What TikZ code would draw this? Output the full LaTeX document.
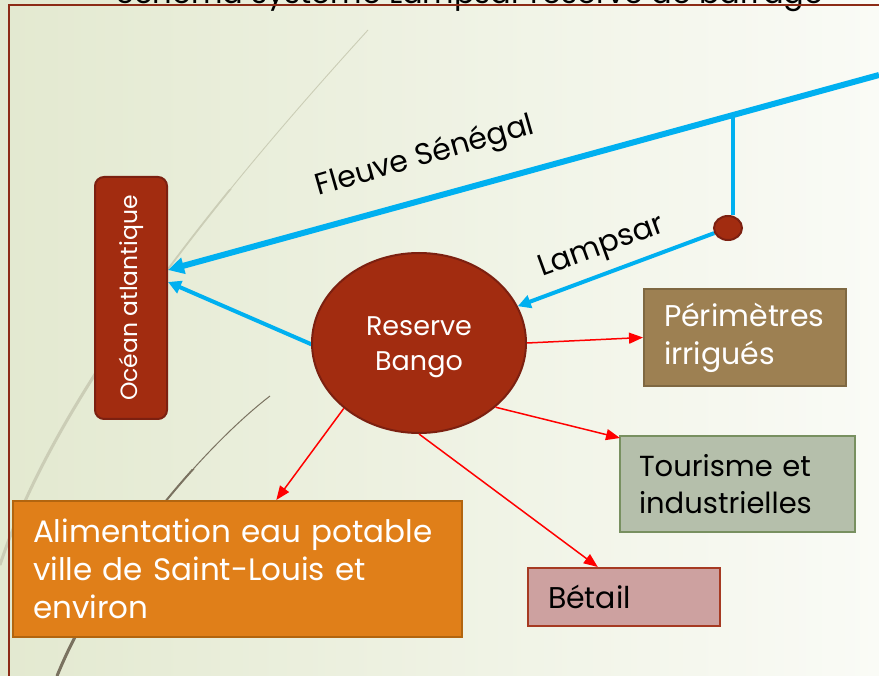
\documentclass[tikz,border=0pt]{standalone}
\usepackage{fontspec}
\setmainfont{Poppins}
\usetikzlibrary{arrows.meta,calc,shapes.geometric}
\definecolor{bgL}{HTML}{E3E9D0}
\definecolor{bgR}{HTML}{FAFBF6}
\definecolor{frame}{HTML}{8C2B16}
\definecolor{river}{HTML}{00B0F0}
\definecolor{rust}{HTML}{A22C10}
\definecolor{rustd}{HTML}{7C2010}
\definecolor{perimF}{HTML}{9D8052}
\definecolor{perimD}{HTML}{7F6842}
\definecolor{tourF}{HTML}{B5BFAB}
\definecolor{tourD}{HTML}{789060}
\definecolor{betF}{HTML}{CDA1A0}
\definecolor{betD}{HTML}{A63A22}
\definecolor{alimF}{HTML}{E07F19}
\definecolor{alimD}{HTML}{B2650F}
\definecolor{curveL}{HTML}{CBCDB6}
\definecolor{curveD}{HTML}{7A7260}
\pgfdeclarelayer{back}
\pgfdeclarelayer{conn}
\pgfsetlayers{back,conn,main}
\tikzset{
  riverline/.style={draw=river, line width=6pt, -{Triangle[length=16pt,width=16pt]}},
  branchline/.style={draw=river, line width=4pt},
  riverarrow/.style={draw=river, line width=4pt, -{Triangle[length=13pt,width=13pt]}},
  usearrow/.style={draw=red, line width=1.5pt, -{Triangle[length=14pt,width=11pt]}},
  box/.style={rectangle, line width=2pt, minimum height=#1, inner sep=0pt, align=left},
  lbl/.style={font=\fontsize{30}{34}\selectfont, text=black},
}
\newcommand{\lightcurve}{(368,30) .. controls (250,160) and (60,380) .. (0,565)}
\newcommand{\darkcurve}{(270,396) .. controls (200,450) and (100,570) .. (57,676)}
\begin{document}
\begin{tikzpicture}[x=1pt,y=-1pt]
\useasboundingbox (0,0) rectangle (879,676);
\begin{pgfonlayer}{back}
\begin{scope}
\clip (0,0) rectangle (879,676);
\shade[left color=bgL, right color=bgR] (0,0) rectangle (879,676);
% decorative curves, thickening towards the bottom
\draw[curveL, line width=0.9pt] \lightcurve;
\begin{scope}
\clip (0,190) rectangle (879,676);
\draw[curveL, line width=1.8pt] \lightcurve;
\end{scope}
\begin{scope}
\clip (0,340) rectangle (879,676);
\draw[curveL, line width=3pt] \lightcurve;
\end{scope}
\draw[curveD, line width=1pt] \darkcurve;
\begin{scope}
\clip (0,470) rectangle (879,676);
\draw[curveD, line width=2pt] \darkcurve;
\end{scope}
\begin{scope}
\clip (0,600) rectangle (879,676);
\draw[curveD, line width=3pt] \darkcurve;
\end{scope}
% title (cut off at the top)
\node[anchor=base, font=\fontsize{30.5}{34}\selectfont, text=black] (title) at (470,4) {Schéma système Lampsar réserve de barrage};
\end{scope}
% frame
\draw[frame, line width=2.5pt] (9,676) -- (9,5) -- (879,5);
\end{pgfonlayer}

% nodes
\node[rectangle, rounded corners=9pt, fill=rust, draw=rustd, line width=2pt,
      minimum width=72pt, minimum height=242pt] (ocean) at (131,298) {};
\node[rotate=90, text=white, font=\fontsize{23.5}{26}\selectfont] (oceantxt) at (ocean.center) {Océan atlantique};
\node[ellipse, fill=rust, draw=rustd, line width=2pt, minimum width=214pt, minimum height=180pt,
      text=white, align=center, font=\fontsize{27}{35}\selectfont] (bango) at (419,343) {\rule{0pt}{28pt}Reserve\\Bango};
\node[ellipse, fill=rust, draw=rustd, line width=2pt, minimum width=28pt, minimum height=24pt, inner sep=0pt] (dot) at (728,228) {};

\node[box=97pt, minimum width=202pt, fill=perimF, draw=perimD, text=white,
      font=\fontsize{30}{38}\selectfont, anchor=north west, text width=202pt] (perim) at (643,288) {\hspace*{20pt}Périmètres\\\hspace*{20pt}irrigués};
\node[box=96pt, minimum width=235pt, fill=tourF, draw=tourD, text=black,
      font=\fontsize{29}{37}\selectfont, anchor=north west, text width=235pt] (tour) at (619,435) {\hspace*{19pt}Tourisme et\\\hspace*{19pt}industrielles};
\node[box=58pt, minimum width=192pt, fill=betF, draw=betD, text=black,
      font=\fontsize{30}{34}\selectfont, anchor=north west, text width=192pt] (betail) at (527,567) {\hspace*{20pt}Bétail};
\node[box=136pt, minimum width=449pt, fill=alimF, draw=alimD, text=white,
      font=\fontsize{31}{38}\selectfont, anchor=north west, text width=449pt] (alim) at (12,500) {\hspace*{20pt}Alimentation eau potable\\\hspace*{20pt}ville de Saint-Louis et\\\hspace*{20pt}environ};

% river connectors (drawn beneath the nodes)
\coordinate (fs) at (879,75);
\coordinate (br) at (733,115);
\coordinate (oceanA) at ($(ocean.east)+(0,-28)$);
\coordinate (oceanB) at ($(ocean.east)+(0,-16)$);
\coordinate (bangoW) at (313,345);
\begin{pgfonlayer}{conn}
\draw[riverline] (fs) -- (oceanA);
\draw[branchline] (br) -- (br |- dot.north);
\draw[riverarrow] (dot) -- (bango);
\draw[riverarrow] (bangoW) -- (oceanB);
\end{pgfonlayer}

% labels
\node[lbl, rotate=16] (fslbl) at (425,157) {Fleuve Sénégal};
\node[lbl, rotate=20] (lplbl) at (602,248) {Lampsar};

% use arrows
\draw[usearrow] (bango.east) -- (perim.west);
\draw[usearrow] (bango.-40) -- ($(tour.north west)+(1,3)$);
\draw[usearrow] (bango.south) -- ($(betail.north west)!0.365!(betail.north east)$);
\draw[usearrow] (bango.-139) -- ($(alim.north west)!0.586!(alim.north east)$);
\end{tikzpicture}
\end{document}
